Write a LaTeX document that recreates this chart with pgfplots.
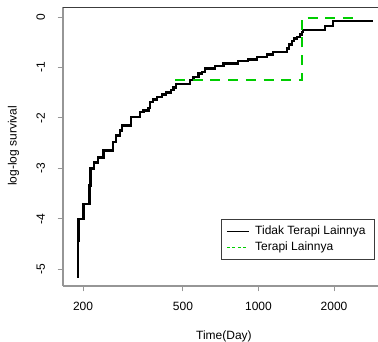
\documentclass[border=0pt]{standalone}
\usepackage{fontspec}
\setmainfont{Liberation Sans}
\usepackage{pgfplots}
\pgfplotsset{compat=1.18}
\definecolor{curvegreen}{RGB}{0,205,0}
\definecolor{axisgray}{RGB}{150,150,150}
\definecolor{boxdark}{RGB}{60,60,60}

% log(-log S(t)) step curves for the two therapy groups
\pgfplotstableread{
t      lls
188.8 -5.149
191.0 -4.433
191.9 -3.996
200.6 -3.698
212.3 -3.340
214.2 -3.002
221.8 -2.883
230.1 -2.783
241.0 -2.644
263.3 -2.479
270.7 -2.346
280.8 -2.247
285.2 -2.147
309.8 -1.982
337.3 -1.883
347.8 -1.849
364.2 -1.803
369.9 -1.684
379.1 -1.636
393.3 -1.584
411.8 -1.537
428.3 -1.497
447.2 -1.451
458.0 -1.398
469.5 -1.322
533.7 -1.252
550.2 -1.187
576.0 -1.119
594.2 -1.087
612.5 -1.020
671.5 -0.974
724.5 -0.920
831.3 -0.875
911.2 -0.841
984.1 -0.789
1078.7 -0.742
1146.0 -0.690
1295.7 -0.622
1327.0 -0.543
1356.5 -0.477
1385.5 -0.423
1420.3 -0.392
1463.9 -0.344
1495.2 -0.292
1508.9 -0.258
1841.4 -0.179
1987.2 -0.080
2868.0 -0.080
}\tidakterapi

\pgfplotstableread{
t      lls
465.0 -1.245
1488.0 -0.012
2450.0 -0.012
}\terapi

\newcommand{\chartfont}{\fontsize{12}{13.5}\selectfont}

\begin{document}
\begin{tikzpicture}[x=1pt,y=1pt]
\path[use as bounding box] (0,0) rectangle (378,342);
\begin{axis}[
  at={(63pt,56pt)}, anchor=south west,
  scale only axis, width=315pt, height=279pt,
  xmode=log, xmin=166.4, xmax=2994, ymin=-5.33, ymax=0.2,
  axis x line*=bottom, axis y line*=left,
  axis line style={axisgray, line width=1.3pt, -},
  xtick={200,500,1000,2000}, xticklabels={200,500,1000,2000},
  minor xtick={},
  ytick={-5,-4,-3,-2,-1,0}, yticklabels={-5,-4,-3,-2,-1,0},
  tick align=outside, major tick length=5.5pt,
  tick style={axisgray, line width=1pt},
  every tick label/.append style={font=\chartfont, text=black},
  xticklabel shift=7pt,
  yticklabel style={rotate=90, anchor=south},
  yticklabel shift=9pt,
  xlabel={Time(Day)},
  xlabel style={font=\chartfont, at={(axis description cs:0.511,-0.1935)}, anchor=base},
  ylabel={log-log survival},
  ylabel style={font=\chartfont, at={(axis description cs:-0.157,0.502)}, anchor=center, rotate=0},
  legend image code/.code={\draw[#1] (0pt,0pt) -- (21.7pt,0pt);},
  legend cell align=left,
  legend style={at={(axis description cs:0.5016,0.2401)}, anchor=north west,
    draw=boxdark, line width=0.8pt, inner xsep=5pt, inner ysep=4pt,
    column sep=2.5pt,
    nodes={inner ysep=2.8pt, inner xsep=3.8pt}, font=\chartfont},
  after end axis/.code={
    \draw[boxdark, line width=0.9pt] (axis description cs:0,1) -- (axis description cs:1,1);
  },
]
\addplot[const plot, black, line width=2.3pt, forget plot] table[x=t, y=lls] {\tidakterapi};
\addplot[const plot, curvegreen, line width=2.3pt, dash pattern=on 10pt off 7.7pt, forget plot] table[x=t, y=lls] {\terapi};
\addlegendimage{black, line width=0.8pt}
\addlegendentry{Tidak Terapi Lainnya}
\addlegendimage{curvegreen, line width=0.8pt, dash pattern=on 3pt off 2.5pt}
\addlegendentry{Terapi Lainnya}
\end{axis}
\end{tikzpicture}
\end{document}
